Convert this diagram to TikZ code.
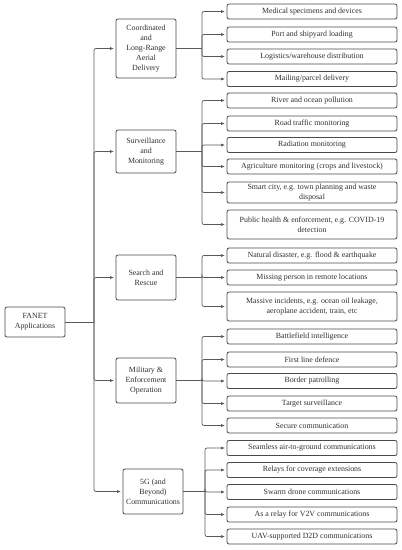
\documentclass[tikz,border=0pt]{standalone}
\usepackage{fontspec}
\setmainfont{Liberation Serif}
\usetikzlibrary{positioning, arrows.meta}

\definecolor{boxline}{HTML}{4A4A4A}
\definecolor{linkgray}{HTML}{5A5A5A}
\definecolor{txtgray}{HTML}{303030}

\begin{document}
\begin{tikzpicture}[x=1pt, y=-1pt,
  every node/.style={font=\fontsize{7.9}{10}\selectfont, text=txtgray},
  box/.style={draw=boxline, rounded corners=2pt, line width=0.8pt, align=center, inner sep=1pt},
  catbox/.style={box, minimum width=60pt},
  leafbox/.style={box, minimum width=170pt, minimum height=15pt},
  link/.style={draw=linkgray, line width=0.7pt},
  tolink/.style={link, rounded corners=2pt, -{Latex[length=4pt, width=3pt]}, shorten >=1.5pt}]
\useasboundingbox (0,0) rectangle (402,550);

% root and categories
\node[box, minimum width=60pt, minimum height=30pt] (fanet) at (35,322) {FANET\\Applications};
\node[catbox, minimum height=59pt] (deliv) at (146,48.5) {Coordinated\\and\\Long-Range\\Aerial\\Delivery};
\node[catbox, minimum height=43pt] (surv) at (146,151.5) {Surveillance\\and\\Monitoring};
\node[catbox, minimum height=45pt] (rescue) at (146,277.5) {Search and\\Rescue};
\node[catbox, minimum height=45pt] (milit) at (146,380.5) {Military \&\\Enforcement\\Operation};
\node[catbox, minimum height=45pt] (fiveg) at (153,491.5) {5G (and\\Beyond)\\Communications};

% leaves
\node[leafbox] (medic) at (312,11.5) {Medical specimens and devices};
\node[leafbox] (port) at (312,34.5) {Port and shipyard loading};
\node[leafbox] (logis) at (312,56.5) {Logistics/warehouse distribution};
\node[leafbox] (mail) at (312,79) {Mailing/parcel delivery};

\node[leafbox] (river) at (312,100.5) {River and ocean pollution};
\node[leafbox] (road) at (312,123.5) {Road traffic monitoring};
\node[leafbox] (radia) at (312,145) {Radiation monitoring};
\node[leafbox] (agri) at (312,166.5) {Agriculture monitoring (crops and livestock)};
\node[leafbox, minimum height=21pt] (smart) at (312,192.5) {Smart city, e.g. town planning and waste\\disposal};
\node[leafbox, minimum height=29pt] (health) at (312,224.5) {Public health \& enforcement, e.g. COVID-19\\detection};

\node[leafbox] (natur) at (312,255.5) {Natural disaster, e.g. flood \& earthquake};
\node[leafbox] (miss) at (312,277.5) {Missing person in remote locations};
\node[leafbox, minimum height=29pt] (massv) at (312,306.5) {Massive incidents, e.g. ocean oil leakage,\\aeroplane accident, train, etc};

\node[leafbox] (battle) at (312,336.5) {Battlefield intelligence};
\node[leafbox] (defen) at (312,359.5) {First line defence};
\node[leafbox] (border) at (312,381) {Border patrolling};
\node[leafbox] (target) at (312,403.5) {Target surveillance};
\node[leafbox] (secur) at (312,425.5) {Secure communication};

\node[leafbox] (seaml) at (312,448) {Seamless air-to-ground communications};
\node[leafbox] (relay) at (312,470) {Relays for coverage extensions};
\node[leafbox] (swarm) at (312,492) {Swarm drone communications};
\node[leafbox] (vtwov) at (312,514.5) {As a relay for V2V communications};
\node[leafbox] (dtwod) at (312,536.5) {UAV-supported D2D communications};

% branch points
\coordinate (trunk) at (94,322);
\coordinate (bdeliv) at (202,48.5);
\coordinate (bsurv) at (202,151.5);
\coordinate (brescue) at (202,277.5);
\coordinate (bmilit) at (202,380.5);
\coordinate (bfiveg) at (205,491.5);

% connectors
\draw[link] (fanet.east) -- (trunk);
\draw[tolink] (trunk) |- (deliv.west);
\draw[tolink] (trunk) |- (surv.west);
\draw[tolink] (trunk) |- (rescue.west);
\draw[tolink] (trunk) |- (milit.west);
\draw[tolink] (trunk) |- (fiveg.west);

\draw[link] (deliv.east) -- (bdeliv);
\draw[tolink] (bdeliv) |- (medic.west);
\draw[tolink] (bdeliv) |- (port.west);
\draw[tolink] (bdeliv) |- (logis.west);
\draw[tolink] (bdeliv) |- (mail.west);

\draw[link] (surv.east) -- (bsurv);
\draw[tolink] (bsurv) |- (river.west);
\draw[tolink] (bsurv) |- (road.west);
\draw[tolink] (bsurv) |- (radia.west);
\draw[tolink] (bsurv) |- (agri.west);
\draw[tolink] (bsurv) |- (smart.west);
\draw[tolink] (bsurv) |- (health.west);

\draw[link] (rescue.east) -- (brescue);
\draw[tolink] (brescue) |- (natur.west);
\draw[tolink] (brescue) |- (miss.west);
\draw[tolink] (brescue) |- (massv.west);

\draw[link] (milit.east) -- (bmilit);
\draw[tolink] (bmilit) |- (battle.west);
\draw[tolink] (bmilit) |- (defen.west);
\draw[tolink] (bmilit) |- (border.west);
\draw[tolink] (bmilit) |- (target.west);
\draw[tolink] (bmilit) |- (secur.west);

\draw[link] (fiveg.east) -- (bfiveg);
\draw[tolink] (bfiveg) |- (seaml.west);
\draw[tolink] (bfiveg) |- (relay.west);
\draw[tolink] (bfiveg) |- (swarm.west);
\draw[tolink] (bfiveg) |- (vtwov.west);
\draw[tolink] (bfiveg) |- (dtwod.west);
\end{tikzpicture}
\end{document}
